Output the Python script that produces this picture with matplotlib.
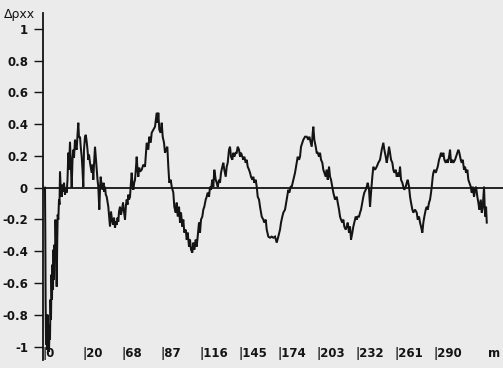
import matplotlib
matplotlib.use('Agg')
import matplotlib.pyplot as plt
import matplotlib.transforms as mtransforms
import numpy as np

# ---- data (distance m, delta rho) ----
xa = [0, 0.22, 0.45, 0.74, 1.11, 1.48, 1.86, 2.23, 2.60, 2.97, 3.34, 3.71, 4.08, 4.45, 4.82, 5.19,
      5.57, 5.94, 6.31, 6.68, 7.05, 7.42, 7.79, 8.16, 8.68, 9.05, 9.42, 9.87, 10.39, 10.76]
ya = [0, -0.264, -0.704, -0.987, -0.830, -1.019, -0.799, -1.006, -0.862, -1.032, -0.893, -0.956,
      -0.704, -0.830, -0.547, -0.704, -0.484, -0.642, -0.390, -0.579, -0.359, -0.453, -0.201,
      -0.327, -0.623, -0.359, -0.170, -0.201, -0.075, -0.107]

xb = [11.13, 11.72, 12.39, 12.99, 13.58, 14.10, 14.84, 15.43, 16.10, 16.70, 17.29, 17.81, 18.55,
      19.14, 19.81, 20.41, 21.00, 21.52, 22.26, 22.85, 23.52, 24.12, 24.71, 25.23, 25.97]
yb = [0.101, -0.013, -0.057, 0.019, -0.025, 0.031, -0.044, 0, -0.031, 0.050, 0.220, 0.113, 0.289,
      0.145, 0, 0.176, 0.239, 0.189, 0.302, 0.252, 0.239, 0.333, 0.409, 0.315, 0.321]

xc = [26.56, 27.23, 27.83, 28.42, 28.94, 29.68, 30.27, 30.94, 31.54, 32.13, 32.65, 33.39, 33.98,
      34.65, 35.25, 35.84, 36.36, 37.10, 37.69, 38.36, 38.96, 39.55, 40.29, 40.81, 41.33, 41.92,
      42.81, 43.41, 43.93, 44.52, 45.11, 45.78, 46.38, 46.97, 47.49, 48.23]
yc = [0.252, 0.195, 0.113, 0.006, 0.239, 0.321, 0.333, 0.289, 0.239, 0.176, 0.208, 0.157, 0.126,
      0.094, 0.145, 0.050, 0.145, 0.258, 0.189, 0.113, 0.050, 0.006, -0.138, -0.013, 0.069, 0.019,
      -0.013, 0.031, -0.025, 0.006, -0.044, -0.057, -0.088, -0.120, -0.170, -0.245]

xd = [48.97, 49.71, 50.46, 51.20, 51.94, 52.68, 53.20, 53.80, 54.39, 54.91, 55.65, 56.39, 57.13,
      57.88, 58.62, 59.36, 60.10, 60.62, 61.22, 61.81, 62.33, 63.07, 63.66, 64.33, 64.93, 65.52,
      66.19, 66.78, 67.38, 68.04, 68.64, 69.23, 69.90]
yd = [-0.151, -0.201, -0.233, -0.189, -0.252, -0.214, -0.233, -0.189, -0.214, -0.151, -0.120,
      -0.170, -0.138, -0.094, -0.151, -0.201, -0.107, -0.075, -0.107, -0.044, -0.075, -0.057,
      0.019, 0.094, 0.019, -0.013, 0.031, 0.050, 0.113, 0.195, 0.113, 0.069, 0.126]

xe = [70.49, 71.75, 72.94, 74.20, 75.46, 76.65, 77.39, 78.43, 79.17, 80.36, 81.62, 82.88, 83.62,
      84.07, 84.81, 85.85, 86.59, 87.33, 88.30, 89.04, 89.78, 90.75, 91.49, 92.23, 93.27, 94.01,
      95.20, 95.94, 96.98, 97.72, 98.46, 99.43, 100.17, 100.91, 101.88, 102.62, 103.36, 104.40,
      105.14, 105.88, 106.85, 107.59, 108.33, 109.30, 110.04, 110.78, 111.82, 112.56, 113.30,
      114.27, 115.01, 115.75, 116.72, 117.46, 118.20, 119.24, 119.98, 120.72, 121.69, 122.43,
      123.17, 124.14, 124.88, 125.62, 126.66, 127.40, 128.14, 129.11, 129.85, 130.59, 131.56,
      132.30, 133.04, 134.08, 134.82, 135.56, 136.53, 137.27, 138.01, 138.98, 139.72, 140.46,
      141.50, 142.24, 142.98, 143.95, 144.69, 145.43, 146.40, 147.14, 147.88, 148.92, 149.66,
      150.40, 151.37, 152.11, 152.85, 153.82, 154.56, 155.30, 156.34, 157.08, 157.82, 158.79]
ye = [0.101, 0.113, 0.145, 0.132, 0.283, 0.239, 0.321, 0.283, 0.346, 0.365,
      0.384, 0.472, 0.409, 0.472, 0.365, 0.346, 0.409, 0.321, 0.283, 0.220,
      0.239, 0.258, 0.132, 0.031, 0.050, 0.006, -0.031, -0.120, -0.157, -0.094,
      -0.182, -0.120, -0.220, -0.157, -0.245, -0.201, -0.283, -0.264, -0.327, -0.283,
      -0.371, -0.327, -0.390, -0.409, -0.346, -0.390, -0.327, -0.371, -0.308, -0.220,
      -0.283, -0.201, -0.182, -0.138, -0.120, -0.075, -0.057, -0.031, -0.057, 0.006,
      -0.013, 0.050, 0.006, 0.113, 0.050, 0.031, 0.006, 0.050, 0.031, 0.094,
      0.132, 0.157, 0.113, 0.069, 0.132, 0.157, 0.239, 0.258, 0.195, 0.176,
      0.220, 0.195, 0.220, 0.220, 0.258, 0.239, 0.195, 0.220, 0.195, 0.176,
      0.195, 0.157, 0.176, 0.132, 0.113, 0.094, 0.069, 0.050, 0.069, 0.031,
      0.050, 0.006, -0.057, -0.075]

xf = [159.53, 160.79, 161.98, 162.72, 163.76, 164.50, 165.69, 166.95, 168.21, 169.40, 170.66,
      171.92, 173.11, 174.37, 175.11, 176.08, 176.82, 178.08, 179.34, 180.53, 181.27, 182.31,
      183.05, 184.24, 185.50, 186.76, 187.50, 188.47, 189.21, 189.95, 190.92, 191.66, 192.92,
      194.18, 195.37, 196.11, 197.15, 197.89, 198.63, 199.08, 199.82, 200.86, 201.60, 202.34,
      203.31, 204.05, 204.79, 205.76, 206.50, 207.24, 208.28, 209.02, 209.76, 210.73, 211.47,
      212.21, 213.18, 213.92, 215.18, 216.44, 217.18, 218.15, 218.89, 219.63, 220.60, 221.34,
      222.08, 223.12, 223.86, 224.60, 225.57, 226.31, 227.05, 228.02, 228.76, 229.50, 230.54,
      231.28, 232.02, 232.99, 233.73, 234.47, 235.44, 236.18, 236.92, 237.96, 238.70, 239.44,
      240.41, 241.15, 241.89, 242.86, 243.60, 244.86, 246.12, 247.31, 248.57]
yf = [-0.120, -0.182, -0.201, -0.220, -0.201, -0.264, -0.308, -0.315, -0.308, -0.315,
      -0.308, -0.346, -0.308, -0.264, -0.220, -0.182, -0.157, -0.138, -0.075, -0.013,
      -0.031, 0.006, 0.006, 0.050, 0.094, 0.157, 0.195, 0.176, 0.195, 0.258,
      0.283, 0.302, 0.321, 0.321, 0.302, 0.321, 0.283, 0.258, 0.346, 0.384,
      0.302, 0.258, 0.220, 0.220, 0.195, 0.220, 0.176, 0.157, 0.113, 0.094,
      0.069, 0.113, 0.050, 0.132, 0.069, 0.050, 0.006, -0.031, -0.075, -0.057,
      -0.094, -0.138, -0.182, -0.201, -0.220, -0.201, -0.245, -0.264, -0.245, -0.220,
      -0.283, -0.245, -0.327, -0.283, -0.245, -0.220, -0.182, -0.201, -0.182, -0.182,
      -0.157, -0.138, -0.094, -0.057, -0.031, -0.013, 0.006, 0.031, -0.013, -0.120,
      -0.031, 0.069, 0.132, 0.113, 0.132, 0.157, 0.176]

xg = [249.83, 251.02, 251.76, 252.80, 253.54, 254.28, 255.25, 255.99, 256.73, 257.70, 258.44,
      259.18, 260.22, 260.96, 261.70, 262.67, 263.41, 264.15, 265.12, 265.86, 266.60, 267.64,
      268.38, 269.12, 270.09, 270.83, 271.57, 272.54, 273.28, 274.54, 275.80, 276.54, 277.51,
      278.25, 278.99, 279.96, 280.70, 281.44, 282.48, 283.22, 283.96, 284.93, 285.67, 286.41,
      286.93, 287.67, 288.12, 288.86, 289.90, 290.64, 291.38, 292.35, 293.09, 293.83, 294.80,
      295.54, 296.28, 297.32, 298.06, 298.80, 299.77, 300.51, 301.25, 302.22, 302.96, 304.22,
      304.96, 305.93, 306.67, 307.41, 308.45, 309.19, 309.93, 310.90, 311.64, 312.38, 313.35,
      314.09, 314.83, 315.87, 316.61, 317.35, 318.31, 319.06, 319.80, 320.76, 321.51, 322.25,
      323.29, 324.03, 324.77, 325.74, 326.26, 326.71, 327.23, 327.75]
yg = [0.239, 0.283, 0.239, 0.195, 0.157, 0.195, 0.258, 0.220, 0.176, 0.157,
      0.113, 0.094, 0.113, 0.069, 0.094, 0.069, 0.132, 0.050, 0.031, 0.006,
      -0.013, 0.006, 0.031, 0.050, 0.006, -0.057, -0.094, -0.138, -0.157, -0.138,
      -0.157, -0.201, -0.182, -0.220, -0.245, -0.283, -0.220, -0.182, -0.138, -0.120,
      -0.138, -0.094, -0.075, -0.031, 0.006, 0.069, 0.094, 0.113, 0.094, 0.113,
      0.132, 0.176, 0.195, 0.220, 0.195, 0.220, 0.176, 0.157, 0.176, 0.157,
      0.195, 0.239, 0.157, 0.176, 0.157, 0.176, 0.195, 0.220, 0.239, 0.220,
      0.176, 0.157, 0.176, 0.113, 0.132, 0.094, 0.113, 0.050, 0.031, 0.006,
      -0.031, 0.006, -0.057, -0.013, 0.006, -0.057, -0.094, -0.138, -0.075, -0.157,
      -0.120, 0.006, -0.138, -0.182, -0.120, -0.220]

ytick_vals = [1, 0.8, 0.6, 0.4, 0.2, 0, -0.2, -0.4, -0.6, -0.8, -1]
ytick_labels = ['1', '0.8', '0.6', '0.4', '0.2', '0', '-0.2', '-0.4', '-0.6', '-0.8', '-1']
xtick_vals = [0, 29, 58, 87, 116, 145, 174, 203, 232, 261, 290]
xtick_labels = ['0', '20', '68', '87', '116', '145', '174', '203', '232', '261', '290']

x = np.concatenate([xa, xb, xc, xd, xe, xf, xg])
y = np.concatenate([ya, yb, yc, yd, ye, yf, yg])

bg = '#ebebeb'
ink = '#141414'
fig = plt.figure(figsize=(5.03, 3.68), dpi=100)
fig.patch.set_facecolor(bg)
ax = fig.add_axes([43 / 503, 8 / 368, 460 / 503, 347 / 368])
ax.set_facecolor(bg)

ax.plot(x, y, color=ink, lw=1.45, solid_joinstyle='miter')
ax.axhline(0, color=ink, lw=1.3)

ax.set_xlim(-1.48, 339.8)
ax.set_ylim(-1.085, 1.10)
for s in ['top', 'right', 'bottom']:
    ax.spines[s].set_visible(False)
ax.spines['left'].set_color(ink)
ax.spines['left'].set_linewidth(1.3)

ax.set_yticks(ytick_vals)
ax.set_yticklabels(ytick_labels, fontsize=8.5, fontweight='bold', color=ink)
ax.tick_params(axis='y', direction='out', length=6.8, width=1.0, pad=4, colors=ink)
ax.set_xticks([])

off = mtransforms.offset_copy(ax.transData, fig=fig, x=-2, y=0, units='dots')
for t, lab in zip(xtick_vals, xtick_labels):
    ax.text(t, -1.066, '|' + lab, transform=off, ha='left', va='baseline',
            fontsize=8.5, fontweight='bold', color=ink, clip_on=False)
fig.text(500 / 503, 1 - 357 / 368, 'm', ha='right', va='baseline', fontsize=8.5,
         fontweight='bold', color=ink)

fig.text(4 / 503, 1 - 18 / 368, 'Δρxx', fontsize=9, color=ink, ha='left', va='baseline')

fig.savefig('out.png', dpi=100, facecolor=bg)
